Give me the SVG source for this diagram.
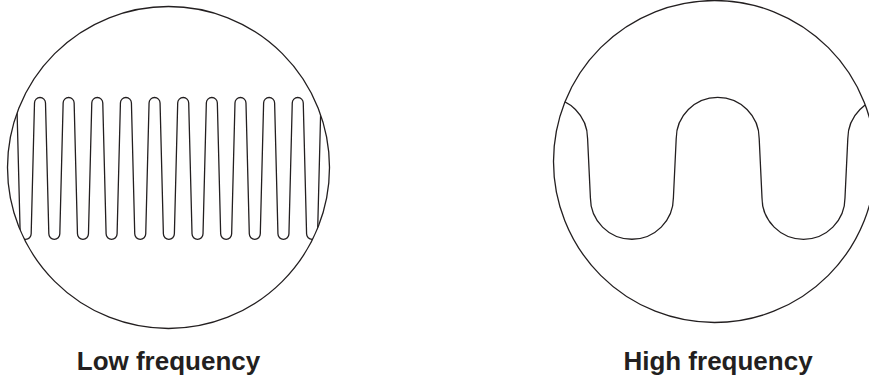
<svg xmlns="http://www.w3.org/2000/svg" width="869" height="378" viewBox="0 0 869 378">
<style>
.ln{fill:none;stroke:#231f20;stroke-width:1.3}
.lbl{font-family:"Liberation Sans",Arial,sans-serif;font-weight:bold;font-size:26px;fill:#231f20;text-anchor:middle}
</style>
<defs>
<clipPath id="clipL"><circle cx="168.5" cy="167.5" r="161"/></clipPath>
<clipPath id="clipR"><circle cx="714.5" cy="161.5" r="161"/></clipPath>
</defs>
<rect width="869" height="378" fill="#ffffff"/>
<g id="low">
<path class="ln" clip-path="url(#clipL)" d="M 5.86 103 A 5.5 5.5 0 0 1 16.86 103 L 20.18 233.8 A 5.5 5.5 0 0 0 31.18 233.8 L 34.5 103 A 5.5 5.5 0 0 1 45.5 103 L 48.82 233.8 A 5.5 5.5 0 0 0 59.82 233.8 L 63.14 103 A 5.5 5.5 0 0 1 74.14 103 L 77.46 233.8 A 5.5 5.5 0 0 0 88.46 233.8 L 91.78 103 A 5.5 5.5 0 0 1 102.78 103 L 106.1 233.8 A 5.5 5.5 0 0 0 117.1 233.8 L 120.42 103 A 5.5 5.5 0 0 1 131.42 103 L 134.74 233.8 A 5.5 5.5 0 0 0 145.74 233.8 L 149.06 103 A 5.5 5.5 0 0 1 160.06 103 L 163.38 233.8 A 5.5 5.5 0 0 0 174.38 233.8 L 177.7 103 A 5.5 5.5 0 0 1 188.7 103 L 192.02 233.8 A 5.5 5.5 0 0 0 203.02 233.8 L 206.34 103 A 5.5 5.5 0 0 1 217.34 103 L 220.66 233.8 A 5.5 5.5 0 0 0 231.66 233.8 L 234.98 103 A 5.5 5.5 0 0 1 245.98 103 L 249.3 233.8 A 5.5 5.5 0 0 0 260.3 233.8 L 263.62 103 A 5.5 5.5 0 0 1 274.62 103 L 277.94 233.8 A 5.5 5.5 0 0 0 288.94 233.8 L 292.26 103 A 5.5 5.5 0 0 1 303.26 103 L 306.58 233.8 A 5.5 5.5 0 0 0 317.58 233.8 L 320.9 103 A 5.5 5.5 0 0 1 331.9 103"/>
<circle class="ln" cx="168.5" cy="167.5" r="161"/>
<text class="lbl" x="168.5" y="370">Low frequency</text>
</g>
<g id="high">
<path class="ln" clip-path="url(#clipR)" d="M 504.6 138.8 A 41.5 41.5 0 0 1 587.6 138.8 L 590.4 197.8 A 41.5 41.5 0 0 0 673.4 197.8 L 676.2 138.8 A 41.5 41.5 0 0 1 759.2 138.8 L 762 197.8 A 41.5 41.5 0 0 0 845 197.8 L 847.8 138.8 A 41.5 41.5 0 0 1 930.8 138.8"/>
<circle class="ln" cx="714.5" cy="161.5" r="161"/>
<text class="lbl" x="718" y="370">High frequency</text>
</g>
<g id="connectors"/>
</svg>
